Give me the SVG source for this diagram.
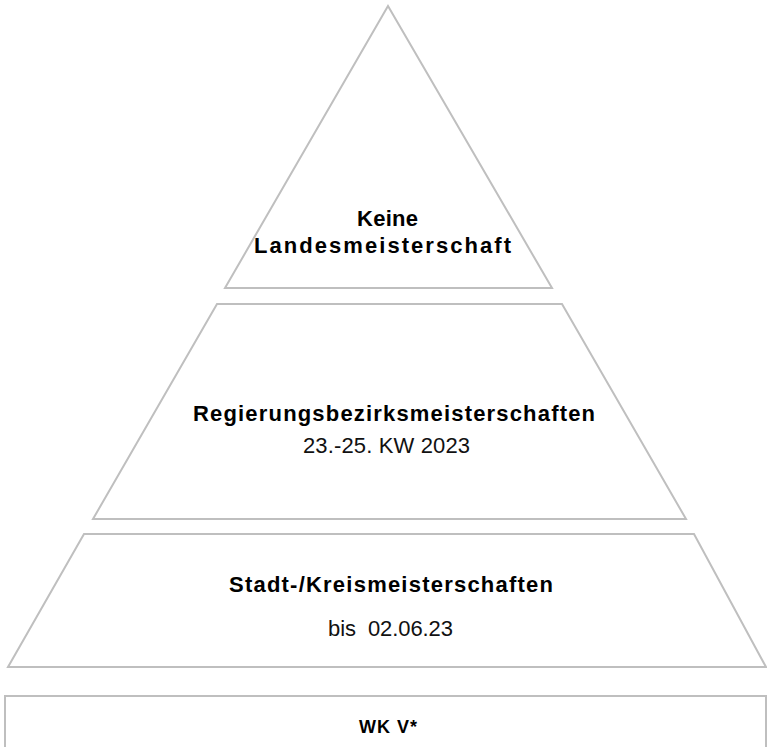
<svg xmlns="http://www.w3.org/2000/svg" width="767" height="747" viewBox="0 0 767 747">
<style>
.s{fill:#ffffff;stroke:#bfbfbf;stroke-width:2;stroke-linejoin:miter}
.b{font-family:"Liberation Sans",Arial,sans-serif;font-weight:bold;font-size:22px;fill:#000}
.r{font-family:"Liberation Sans",Arial,sans-serif;font-size:22px;fill:#111}
.w{font-family:"Liberation Sans",Arial,sans-serif;font-weight:bold;font-size:18px;fill:#000}
</style>
<rect width="767" height="747" fill="#ffffff"/>
<g id="level-land">
<polygon class="s" points="388,6 552,288 225,288"/>
<text class="b" x="357" y="226" textLength="61" lengthAdjust="spacing">Keine</text>
<text class="b" x="254" y="253" textLength="257" lengthAdjust="spacing">Landesmeisterschaft</text>
</g>
<g id="level-bezirk">
<polygon class="s" points="217,304 562,304 686,519 93,519"/>
<text class="b" x="193" y="421" textLength="402" lengthAdjust="spacing">Regierungsbezirksmeisterschaften</text>
<text class="r" x="303" y="453" textLength="167" lengthAdjust="spacing">23.-25. KW 2023</text>
</g>
<g id="level-kreis">
<polygon class="s" points="84,534 694,534 766,667 8,667"/>
<text class="b" x="229" y="592" textLength="324" lengthAdjust="spacing">Stadt-/Kreismeisterschaften</text>
<text class="r" x="328" y="636" textLength="125" lengthAdjust="spacing" xml:space="preserve">bis  02.06.23</text>
</g>
<g id="level-wk">
<rect class="s" x="5" y="696" width="761" height="70"/>
<text class="w" x="359" y="733" textLength="58" lengthAdjust="spacing">WK V*</text>
</g>
<g id="connectors"></g>
</svg>
